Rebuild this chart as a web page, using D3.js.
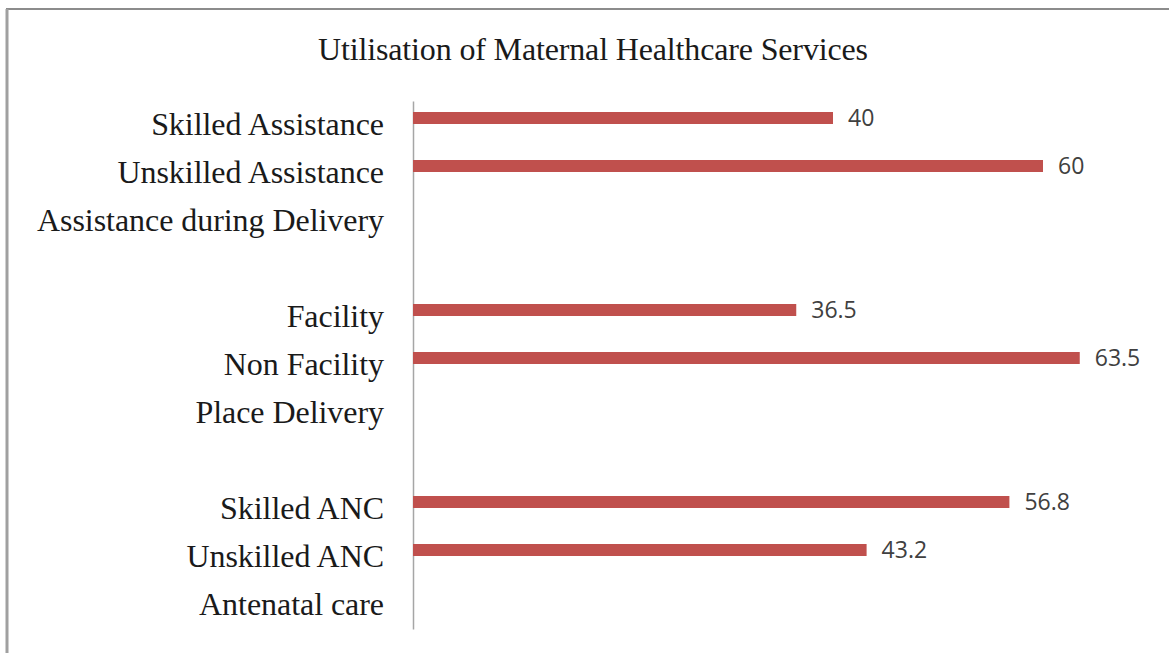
<!DOCTYPE html>
<html>
<head>
<meta charset="utf-8">
<script src="https://cdn.jsdelivr.net/npm/d3@7"></script>
<style>
  body { margin: 0; background: #fff; }
</style>
</head>
<body>
<script>
// chart data, top to bottom (blank slots separate the groups)
let categories = ["Skilled Assistance", "Unskilled Assistance", "Assistance during Delivery", "",
                  "Facility", "Non Facility", "Place Delivery", " ",
                  "Skilled ANC", "Unskilled ANC", "Antenatal care"];
let values = [40, 60, null, null, 36.5, 63.5, null, null, 56.8, 43.2, null];
let title = "Utilisation of Maternal Healthcare Services";

let w = 1169, h = 653;

let svg = d3.select("body").append("svg")
    .attr("width", w)
    .attr("height", h);

// outer frame (top and left edges visible)
svg.append("line").attr("x1", 6).attr("x2", w).attr("y1", 9).attr("y2", 9)
    .attr("stroke", "#8c8c8c").attr("stroke-width", 2);
svg.append("line").attr("x1", 7).attr("x2", 7).attr("y1", 9).attr("y2", h)
    .attr("stroke", "#a0a0a0").attr("stroke-width", 3);

svg.append("text")
    .attr("x", 593)
    .attr("y", 60)
    .attr("text-anchor", "middle")
    .attr("font-family", "Liberation Serif, serif")
    .attr("font-size", 32)
    .attr("letter-spacing", -0.15)
    .attr("fill", "#1a1a1a")
    .text(title);

let x = d3.scaleLinear().domain([0, 70]).range([413, 1148]);
let y = d3.scaleBand().domain(categories).range([101, 629]);

let data = categories.map((c, i) => ({ cat: c, val: values[i] }));

// category axis
let yAxis = svg.append("g")
    .attr("transform", "translate(413,0)")
    .call(d3.axisLeft(y).tickSize(0).tickPadding(29));
yAxis.select(".domain").attr("stroke", "#a6a6a6").attr("stroke-width", 1.5);
yAxis.selectAll("text")
    .attr("font-family", "Liberation Serif, serif")
    .attr("font-size", 32)
    .attr("letter-spacing", -0.05)
    .attr("fill", "#1a1a1a")
    .attr("dy", "0.32em");

let bars = data.filter(d => d.val != null);

svg.selectAll("rect.bar").data(bars).enter().append("rect")
    .attr("class", "bar")
    .attr("x", x(0))
    .attr("y", d => y(d.cat) + y.bandwidth() / 2 - 13)
    .attr("width", d => x(d.val) - x(0))
    .attr("height", 12)
    .attr("fill", "#c0504d");

svg.selectAll("text.val").data(bars).enter().append("text")
    .attr("class", "val")
    .attr("x", d => x(d.val) + 15)
    .attr("y", d => y(d.cat) + y.bandwidth() / 2 - 7)
    .attr("dy", "0.35em")
    .attr("font-family", "Open Sans, sans-serif")
    .attr("font-size", 23)
    .attr("fill", "#404040")
    .text(d => d.val);
</script>
</body>
</html>
